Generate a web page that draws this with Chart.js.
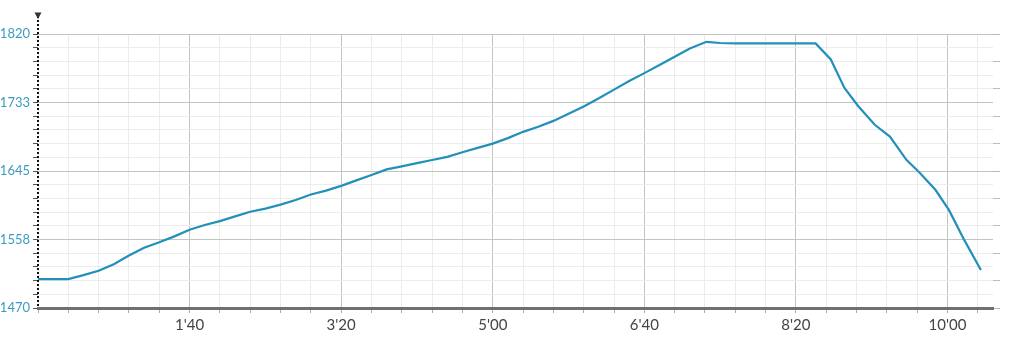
<!DOCTYPE html>
<html>
<head>
<meta charset="utf-8">
<script src="https://cdn.jsdelivr.net/npm/chart.js@4/dist/chart.umd.min.js"></script>
<style>
  html, body { margin: 0; padding: 0; background: #ffffff; }
  #wrap { width: 1015px; height: 346px; position: relative; }
</style>
</head>
<body>
<div id="wrap"><canvas id="c" width="1015" height="346"></canvas></div>
<script>
// Time in seconds
const times = [0, 10, 20, 30, 40, 50, 60, 70, 80, 90, 100, 110, 120, 130, 140, 150, 160, 170, 180, 190,
  200, 210, 220, 230, 240, 250, 260, 270, 280, 290, 300, 310, 320, 330, 340, 350, 360, 370, 380, 390,
  400, 410, 420, 430, 441, 450, 460, 470, 480, 490, 500, 513, 523, 532, 541, 552, 562, 573, 581, 592,
  601, 611, 622];
// Elevation values
const elevations = [1507, 1507, 1507, 1512, 1517.5, 1526, 1537, 1547, 1554, 1561.5, 1570, 1576, 1581, 1587, 1593, 1597, 1602, 1608, 1615, 1620,
  1626, 1633, 1640, 1647, 1651, 1655, 1659, 1663, 1669, 1674.5, 1680, 1687, 1695, 1701.5, 1709, 1718, 1727.5, 1738, 1749, 1760,
  1770, 1780.5, 1791, 1801.5, 1810, 1808.5, 1808, 1808, 1808, 1808, 1808, 1808, 1787.5, 1751, 1728, 1704, 1689, 1659, 1644, 1621,
  1595, 1557, 1518.5];
// Axis settings
const yTickValues = [1470, 1487.5, 1505, 1522.5, 1540, 1557.5, 1575, 1592.5, 1610, 1627.5, 1645, 1662.5, 1680, 1697.5, 1715, 1732.5, 1750, 1767.5, 1785, 1802.5, 1820];
const yMajorLabels = { 1470: '1470', 1557.5: '1558', 1645: '1645', 1732.5: '1733', 1820: '1820' };
const xTickValues = [0, 20, 40, 60, 80, 100, 120, 140, 160, 180, 200, 220, 240, 260, 280, 300, 320, 340, 360, 380, 400, 420, 440, 460, 480, 500, 520, 540, 560, 580, 600, 620];
const xMajorLabels = { 100: "1'40", 200: "3'20", 300: "5'00", 400: "6'40", 500: "8'20", 600: "10'00" };

const points = times.map((t, i) => ({ x: t, y: elevations[i] }));

const yAxisDecor = {
  id: 'yAxisDecor',
  afterDraw(chart) {
    const ctx = chart.ctx;
    const y = chart.scales.y;
    const x0 = chart.chartArea.left;
    ctx.save();
    ctx.strokeStyle = '#111';
    ctx.lineWidth = 2;
    ctx.setLineDash([2, 2]);
    ctx.beginPath();
    ctx.moveTo(x0, 16);
    ctx.lineTo(x0, y.bottom);
    ctx.stroke();
    ctx.setLineDash([]);
    ctx.fillStyle = '#333';
    ctx.beginPath();
    ctx.moveTo(x0 - 3.5, 12.5);
    ctx.lineTo(x0 + 3.5, 12.5);
    ctx.lineTo(x0, 19);
    ctx.closePath();
    ctx.fill();
    ctx.restore();
  }
};

new Chart(document.getElementById('c'), {
  type: 'line',
  data: {
    datasets: [{
      data: points,
      borderColor: '#2390b9',
      borderWidth: 2.2,
      pointRadius: 0,
      tension: 0,
      fill: false
    }]
  },
  options: {
    responsive: false,
    animation: false,
    layout: { padding: { top: 34, left: 0, right: 0, bottom: 0 } },
    plugins: { legend: { display: false }, tooltip: { enabled: false } },
    scales: {
      x: {
        type: 'linear',
        min: 0,
        max: 630,
        afterBuildTicks: (s) => { s.ticks = xTickValues.map(v => ({ value: v })); },
        afterFit: (s) => { s.height = 38; },
        ticks: {
          autoSkip: false,
          maxRotation: 0,
          padding: 3,
          color: '#444',
          font: { family: 'Lato', size: 15 },
          callback: (v) => xMajorLabels[v] || ''
        },
        grid: {
          color: (c) => (c.tick && xMajorLabels[c.tick.value]) ? '#c4c4c4' : '#ececec',
          tickColor: '#aaa',
          tickLength: 5,
          lineWidth: 1
        },
        border: { display: true, color: '#707070', width: 3 }
      },
      y: {
        type: 'linear',
        position: 'left',
        min: 1470,
        max: 1820,
        afterBuildTicks: (s) => { s.ticks = yTickValues.map(v => ({ value: v })); },
        afterFit: (s) => { s.width = 38; },
        ticks: {
          autoSkip: false,
          padding: 3,
          color: '#3a9cc2',
          font: { family: 'Lato', size: 13 },
          callback: (v) => yMajorLabels[v] || ''
        },
        grid: {
          color: (c) => (c.tick && yMajorLabels[c.tick.value]) ? '#c4c4c4' : '#ececec',
          tickColor: '#555',
          tickLength: 5,
          lineWidth: 1
        },
        border: { display: false }
      },
      yr: {
        type: 'linear',
        position: 'right',
        min: 1470,
        max: 1820,
        afterBuildTicks: (s) => { s.ticks = yTickValues.map(v => ({ value: v })); },
        afterFit: (s) => { s.width = 22; },
        ticks: { display: true, padding: 0, callback: () => '' },
        grid: {
          drawOnChartArea: false,
          tickColor: '#bbb',
          tickLength: 7
        },
        border: { display: false }
      }
    }
  },
  plugins: [yAxisDecor]
});
</script>
</body>
</html>
